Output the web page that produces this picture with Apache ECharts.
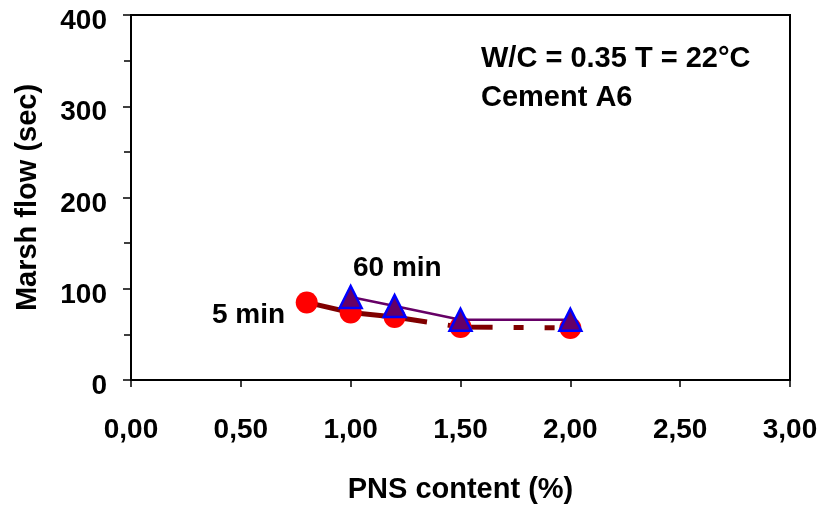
<!DOCTYPE html>
<html><head><meta charset="utf-8">
<script src="https://cdn.jsdelivr.net/npm/echarts@6/dist/echarts.min.js"></script>
<style>html,body{margin:0;padding:0;background:#fff}#c{width:822px;height:505px}</style>
</head><body><div id="c"></div>
<script>
var pns5 = [0.8, 1.0, 1.2, 1.5, 2.0];
var flow5 = [85, 74, 69, 58, 57];
var pns60 = [1.0, 1.2, 1.5, 2.0];
var flow60 = [91, 81, 66, 66];
var xTicks = [0, 0.5, 1.0, 1.5, 2.0, 2.5, 3.0];
var yTicks = [0, 100, 200, 300, 400];
var FONT = '"Liberation Sans", Arial, sans-serif';

function pairs(xs, ys){ return xs.map(function(x,i){ return [x, ys[i]]; }); }

var chart = echarts.init(document.getElementById('c'), null, {renderer:'canvas'});
chart.setOption({
  animation: false,
  backgroundColor: '#fff',
  grid: {left: 131, right: 32, top: 15, bottom: 125, outerBoundsMode: 'none', containLabel: false,
    show: true, borderColor: '#000', borderWidth: 2, backgroundColor: 'transparent'},
  xAxis: {
    type: 'value', min: xTicks[0], max: xTicks[xTicks.length-1], interval: 0.5,
    name: 'PNS content (%)', nameLocation: 'middle', nameGap: 95,
    nameTextStyle: {fontFamily: FONT, fontWeight: 'bold', fontSize: 29, color: '#000'},
    axisLine: {show: true, lineStyle: {color: '#000', width: 2}},
    axisTick: {show: true, length: 7, lineStyle: {color: '#000', width: 1.5}},
    splitLine: {show: false},
    axisLabel: {margin: 36, fontFamily: FONT, fontWeight: 'bold', fontSize: 28, color: '#000',
      formatter: function(v){ return v.toFixed(2).replace('.', ','); }}
  },
  yAxis: {
    type: 'value', min: yTicks[0], max: yTicks[yTicks.length-1], interval: 100,
    name: 'Marsh flow (sec)', nameLocation: 'middle', nameGap: 89,
    nameTextStyle: {fontFamily: FONT, fontWeight: 'bold', fontSize: 29, color: '#000'},
    axisLine: {show: true, lineStyle: {color: '#000', width: 2}},
    axisTick: {show: true, length: 8, lineStyle: {color: '#000', width: 1.5}},
    minorTick: {show: true, splitNumber: 2, length: 7, lineStyle: {color: '#000', width: 1.5}},
    splitLine: {show: false},
    axisLabel: {margin: 24, color: '#000',
      formatter: function(v){ return '{a|' + v + '}'; },
      rich: {a: {fontFamily: FONT, fontWeight: 'bold', fontSize: 28, color: '#000', padding: [13, 0, 0, 0]}}}
  },
  series: [
    {
      name: '5 min', type: 'line', data: pairs(pns5, flow5),
      symbol: 'circle', symbolSize: 22,
      itemStyle: {color: '#FF0000', borderWidth: 0},
      lineStyle: {color: '#800000', width: 5, type: [122, 21, 45, 21, 10, 21, 10, 21], cap: 'butt'},
      z: 2
    },
    {
      name: '60 min', type: 'line', data: pairs(pns60, flow60),
      symbol: 'triangle', symbolSize: [22, 22],
      itemStyle: {color: '#660066', borderColor: '#0000FF', borderWidth: 2.5},
      lineStyle: {color: '#660066', width: 2.5},
      z: 3
    }
  ],
  graphic: [
    {type: 'text', left: 353, top: 254, style: {text: '60 min', font: 'bold 28px ' + FONT, fill: '#000'}},
    {type: 'text', left: 212, top: 301, style: {text: '5 min', font: 'bold 28px ' + FONT, fill: '#000'}},
    {type: 'text', left: 481, top: 44, style: {text: 'W/C = 0.35 T = 22°C', font: 'bold 29px ' + FONT, fill: '#000'}},
    {type: 'text', left: 481, top: 83, style: {text: 'Cement A6', font: 'bold 29px ' + FONT, fill: '#000'}}
  ]
});
</script>
</body></html>
